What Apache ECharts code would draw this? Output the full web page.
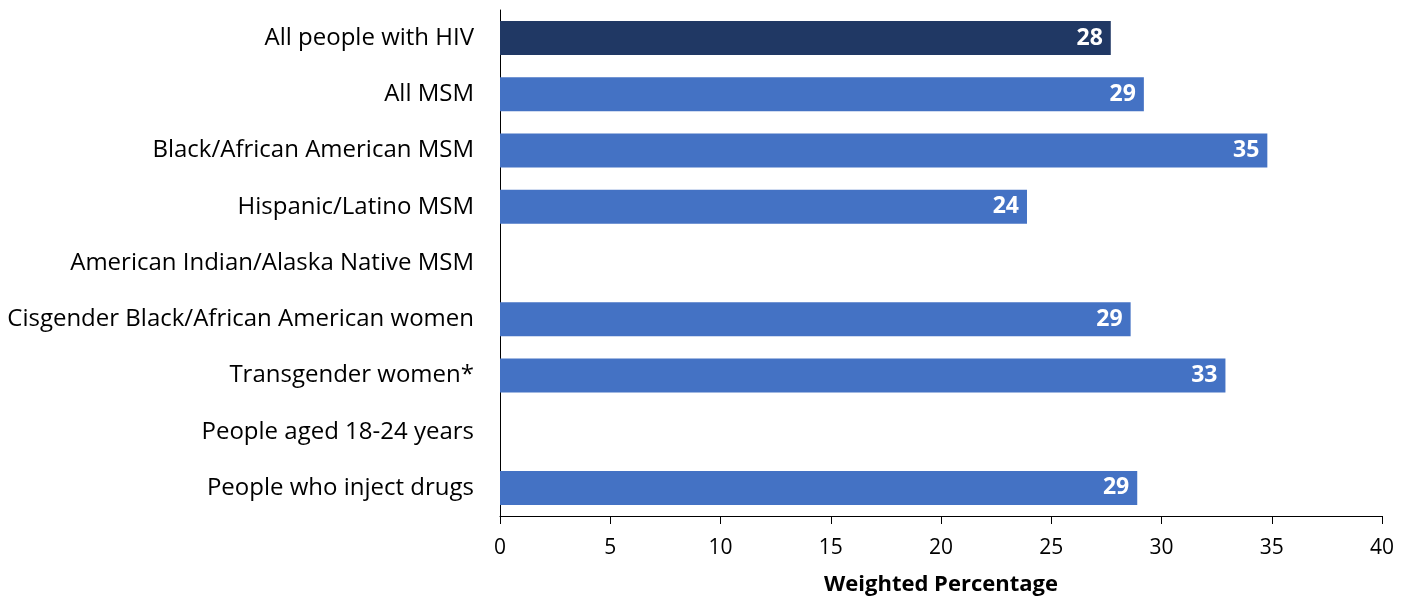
<!DOCTYPE html>
<html><head><meta charset="utf-8">
<script src="https://cdn.jsdelivr.net/npm/echarts@6/dist/echarts.min.js"></script>
<style>html,body{margin:0;padding:0;background:#fff}#c{width:1413px;height:600px}</style>
</head><body><div id="c"></div>
<script>
const categories = ["All people with HIV","All MSM","Black/African American MSM","Hispanic/Latino MSM","American Indian/Alaska Native MSM","Cisgender Black/African American women","Transgender women*","People aged 18-24 years","People who inject drugs"];
const values = [27.7, 29.2, 34.8, 23.9, null, 28.6, 32.9, null, 28.9];
const labels = ["28","29","35","24","","29","33","","29"];
const colors = ["#203864","#4472C4","#4472C4","#4472C4","#4472C4","#4472C4","#4472C4","#4472C4","#4472C4"];
const xTicks = [0,5,10,15,20,25,30,35,40];
const font = "'Open Sans', sans-serif";
const chart = echarts.init(document.getElementById('c'));
chart.setOption({
  animation:false,
  grid:{left:500,right:31,top:10,bottom:84,containLabel:false,outerBoundsMode:'none'},
  xAxis:{type:'value',min:xTicks[0],max:xTicks[xTicks.length-1],interval:5,
    name:'Weighted Percentage',nameLocation:'middle',nameGap:58,
    nameTextStyle:{fontFamily:font,fontWeight:'bold',fontSize:22,color:'#000'},
    axisLine:{show:true,lineStyle:{color:'#000',width:1}},
    axisTick:{show:true,length:8,lineStyle:{color:'#000'}},
    axisLabel:{fontFamily:font,fontSize:21,color:'#000',margin:22},
    splitLine:{show:false}},
  yAxis:{type:'category',inverse:true,data:categories,
    axisLine:{show:true,lineStyle:{color:'#000',width:1}},
    axisTick:{show:false},
    axisLabel:{fontFamily:font,fontSize:24,color:'#000',margin:26}},
  series:[{type:'bar',barWidth:34,
    data:values.map((v,i)=>({value:v,itemStyle:{color:colors[i]}})),
    label:{show:true,position:'insideRight',color:'#fff',fontFamily:font,fontWeight:'bold',fontSize:23,distance:8,
      formatter:p=>labels[p.dataIndex]}}]
});
</script></body></html>
